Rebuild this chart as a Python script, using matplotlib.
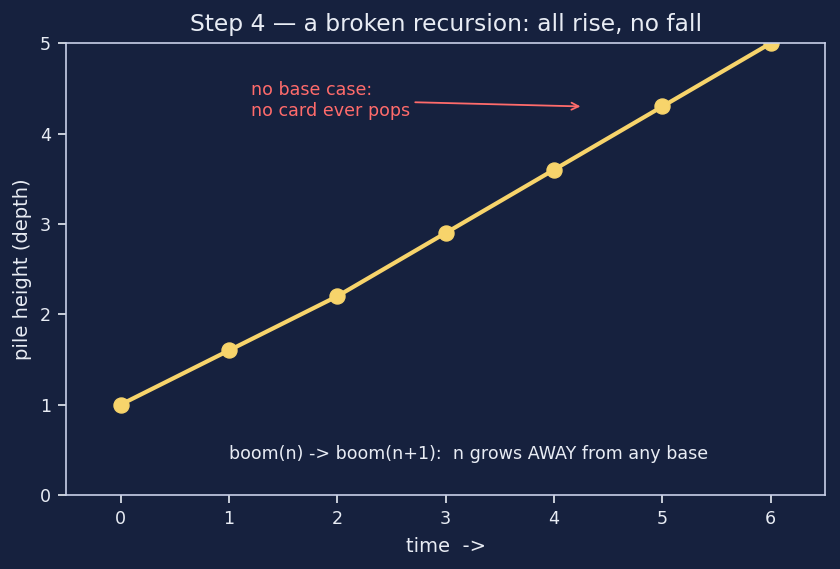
import matplotlib
matplotlib.use("Agg")
import matplotlib.pyplot as plt

# pile height grows every step, never comes back down
time_steps = [0, 1, 2, 3, 4, 5, 6]
pile_height = [1.0, 1.6, 2.2, 2.9, 3.6, 4.3, 5.0]

bg = "#16213e"
fg = "#e8ecf4"
line_col = "#f7d46b"
note_col = "#ff6b6b"

fig, ax = plt.subplots(figsize=(8.4, 5.69), dpi=100)
fig.patch.set_facecolor(bg)
ax.set_facecolor(bg)

ax.plot(time_steps, pile_height, "-o", color=line_col, lw=3, ms=10.8)

ax.set_xlim(-0.5, 6.5)
ax.set_ylim(0, 5)
ax.set_title("Step 4 \u2014 a broken recursion: all rise, no fall", color=fg,
             fontsize=16.8, pad=9)
ax.set_xlabel("time  ->", color=fg, fontsize=14, labelpad=6)
ax.set_ylabel("pile height (depth)", color=fg, fontsize=14, labelpad=6)
ax.tick_params(colors=fg, labelsize=12.6, width=1.2, length=5.5, pad=5.5)
for s in ax.spines.values():
    s.set_color("#c8d0e8")
    s.set_linewidth(1.2)

ax.annotate("no base case:\nno card ever pops", xy=(4.27, 4.3), xytext=(1.2, 4.2),
            color=note_col, fontsize=12.6,
            arrowprops=dict(arrowstyle="->", color=note_col, lw=1.3))
ax.text(1.0, 0.4, "boom(n) -> boom(n+1):  n grows AWAY from any base",
        color=fg, fontsize=12.6)

fig.subplots_adjust(left=0.079, right=0.982, top=0.924, bottom=0.13)
fig.savefig("out.png", facecolor=bg)
